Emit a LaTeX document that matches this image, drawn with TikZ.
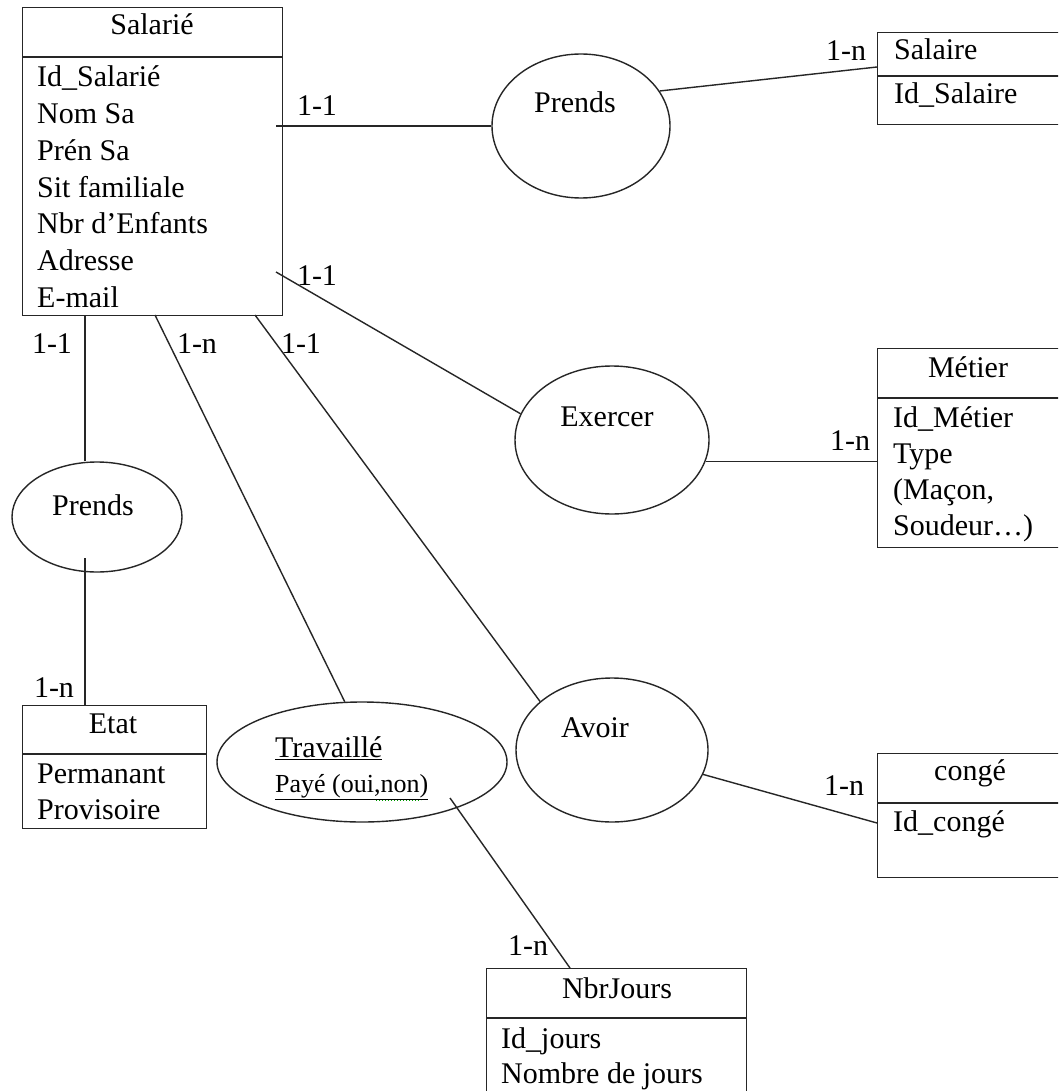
\documentclass[tikz,border=0pt]{standalone}
\usepackage{fontspec}
\setmainfont{Liberation Serif}
\usetikzlibrary{shapes.geometric}

\begin{document}
\begin{tikzpicture}[x=1pt,y=-1pt,
    trait/.style={draw=black!85,line width=1.4pt},
    entite/.style={trait,rectangle,fill=white,inner sep=0pt},
    assoc/.style={trait,ellipse,inner sep=0pt},
    txt/.style={inner sep=0pt,font=\fontsize{30}{36}\selectfont},
    attr/.style={txt,anchor=base west},
    titre/.style={txt,anchor=base},
    card/.style={txt,anchor=base}]
  \useasboundingbox (0,0) rectangle (1058,1091);
  \clip (0,0) rectangle (1058,1091);
  \fill[white] (0,0) rectangle (1058,1091);

  \foreach \n/\x/\y/\w/\h/\e in {salarie/22/7/260/308/50, salaire/877/32/190/92/44,
      metier/877/348/190/199/50, conge/877/753/190/124/50, etat/22/705/184/123/49,
      nbrjours/486/968/260/150/50} {
    \node[entite,anchor=north west,minimum width=\w pt,minimum height=\h pt] (\n) at (\x,\y) {};
    \draw[trait] ([yshift=-\e pt]\n.north west) -- ([yshift=-\e pt]\n.north east);
  };

  \node[titre] (t-salarie) at (152,35) {Salarié};
  \foreach \t [count=\i from 0] in {Id\_Salarié, Nom Sa, Prén Sa, Sit familiale, Nbr d’Enfants, Adresse, E-mail}
    \node[attr] (a-salarie-\i) at (37,{87+36.7*\i}) {\t};
  \node[attr] (t-salaire) at (894,60) {Salaire};
  \node[attr] (a-salaire) at (894,104) {Id\_Salaire};
  \node[titre] (t-metier) at (968,377) {Métier};
  \foreach \t [count=\i from 0] in {Id\_Métier, Type, {(Maçon,}, Soudeur\ldots)}
    \node[attr] (a-metier-\i) at (893,{427+36*\i}) {\t};
  \node[titre] (t-conge) at (970,780) {congé};
  \node[attr] (a-conge) at (893,831) {Id\_congé};
  \node[titre] (t-etat) at (113,733) {Etat};
  \node[attr] (a-etat-1) at (37,783) {Permanant};
  \node[attr] (a-etat-2) at (37,819) {Provisoire};
  \node[titre] (t-nbrjours) at (617,998) {NbrJours};
  \node[attr] (a-nbrjours-1) at (501,1048) {Id\_jours};
  \node[attr] (a-nbrjours-2) at (501,1083) {Nombre de jours};

  \node[assoc,minimum width=178pt,minimum height=144pt] (prA) at (581,126) {};
  \node[titre] (t-prA) at (575,113) {Prends};
  \node[assoc,minimum width=194pt,minimum height=148pt] (ex) at (612,440) {};
  \node[titre] (t-ex) at (607,426) {Exercer};
  \node[assoc,minimum width=192pt,minimum height=144pt] (av) at (612,750) {};
  \node[titre] (t-av) at (595,737) {Avoir};
  \node[assoc,minimum width=170pt,minimum height=110pt] (prB) at (97,517) {};
  \node[titre] (t-prB) at (93,515) {Prends};
  \node[assoc,minimum width=290pt,minimum height=120pt] (trav) at (362,762) {};
  \node[attr] (t-trav) at (275,757) {\underline{Travaillé}};
  \node[attr,font=\fontsize{26}{30}\selectfont] (a-trav) at (275,792) {\underline{Payé (oui,non)}};
  \draw[green!60!black,line width=1pt,dotted] (376,800) -- (421,800);

  \coordinate (s1) at (276,126);
  \coordinate (s2) at (276,272);
  \coordinate (s3) at (255,315);
  \coordinate (s4) at (85,315);
  \coordinate (s5) at (155,315);
  \coordinate (p2) at (85,558);
  \coordinate (tj) at (450,798);
  \coordinate (sa) at (877,67);
  \coordinate (co) at (877,823);
  \coordinate (nj) at (570,968);

  \draw[trait] (s1) -- (prA.west);
  \draw[trait] (prA.24) -- (sa);
  \draw[trait] (s2) -- (ex.164);
  \draw[trait] (ex.-13) -- (ex.-13 -| metier.west);
  \draw[trait] (s3) -- (av.146);
  \draw[trait] (av.-15) -- (co);
  \draw[trait] (s5) -- (trav.106);
  \draw[trait] (tj) -- (nj);
  \draw[trait] (s4) -- (s4 |- prB.north);
  \draw[trait] (p2) -- (p2 |- etat.north);

  \node[card] (c1) at (317,116) {1-1};
  \node[card] (c2) at (317,285) {1-1};
  \node[card] (c3) at (52,353) {1-1};
  \node[card] (c4) at (197,353) {1-n};
  \node[card] (c5) at (301,353) {1-1};
  \node[card] (c6) at (846,61) {1-n};
  \node[card] (c7) at (850,450) {1-n};
  \node[card] (c8) at (844,795) {1-n};
  \node[card] (c9) at (54,697) {1-n};
  \node[card] (c10) at (528,955) {1-n};
\end{tikzpicture}
\end{document}
